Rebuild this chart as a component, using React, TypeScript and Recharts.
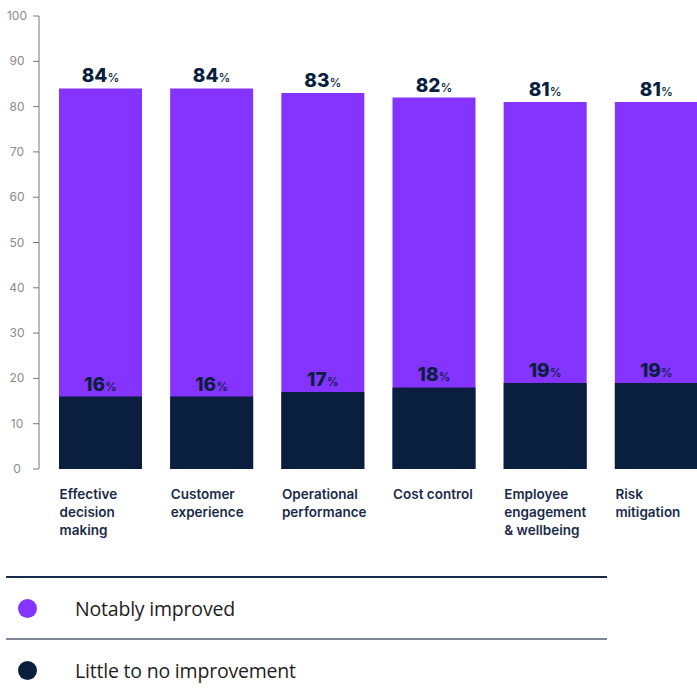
import { BarChart, Bar, XAxis, YAxis, LabelList } from 'recharts'

const CATEGORIES = [
  'Effective decision making',
  'Customer experience',
  'Operational performance',
  'Cost control',
  'Employee engagement & wellbeing',
  'Risk mitigation',
]
const CATEGORY_LINES = [
  ['Effective', 'decision', 'making'],
  ['Customer', 'experience'],
  ['Operational', 'performance'],
  ['Cost control'],
  ['Employee', 'engagement', '& wellbeing'],
  ['Risk', 'mitigation'],
]
const NOTABLY_IMPROVED = [84, 84, 83, 82, 81, 81]
const LITTLE_TO_NONE = [16, 16, 17, 18, 19, 19]
const Y_TICKS = [0, 10, 20, 30, 40, 50, 60, 70, 80, 90, 100]

const PURPLE = '#8533ff'
const NAVY = '#0a1f3d'
const FONT = 'Inter, "Open Sans", sans-serif'

const data = CATEGORIES.map((name, i) => ({
  name,
  lines: CATEGORY_LINES[i],
  improved: NOTABLY_IMPROVED[i],
  little: LITTLE_TO_NONE[i],
}))

function PctLabel(props: any) {
  const { x, y, width, value } = props
  return (
    <text x={x + width / 2} y={y - 6} textAnchor="middle" fill={NAVY} fontFamily={FONT}>
      <tspan fontSize={19} fontWeight={800}>{value}</tspan>
      <tspan fontSize={12} fontWeight={500}>%</tspan>
    </text>
  )
}

function CategoryTick(props: any) {
  const { x, y, payload } = props
  const lines: string[] = CATEGORY_LINES[payload.index] ?? [payload.value]
  return (
    <text x={x - 41} y={y} fill="#1a2b4a" fontFamily={FONT} fontSize={13.5} fontWeight={600}>
      {lines.map((l, i) => (
        <tspan key={i} x={x - 41} dy={i === 0 ? 22 : 18}>{l}</tspan>
      ))}
    </text>
  )
}

function ValueTick(props: any) {
  const { y, payload } = props
  return (
    <text x={17} y={y + 4} textAnchor="middle" fill="#8a8a8a" fontFamily={FONT} fontSize={12}>
      {payload.value}
    </text>
  )
}

function LegendRow({ color, label }: { color: string; label: string }) {
  return (
    <div style={{ display: 'flex', alignItems: 'center', height: 60 }}>
      <span style={{ width: 19, height: 19, borderRadius: '50%', background: color, marginLeft: 12 }} />
      <span style={{ marginLeft: 38, fontSize: 19.5, color: '#1e1e1e', fontFamily: '"Open Sans", sans-serif', letterSpacing: -0.2 }}>{label}</span>
    </div>
  )
}

export default function App() {
  return (
    <div style={{ position: 'fixed', left: 0, top: 0, width: 697, height: 698, overflow: 'hidden', background: '#fff' }}>
      <BarChart width={720} height={545} data={data} margin={{ top: 16, right: 8, bottom: 0, left: 0 }} barSize={83}>
        <XAxis
          xAxisId="a"
          dataKey="name"
          height={76}
          axisLine={false}
          tickLine={false}
          padding={{ left: 6, right: 0 }}
          tick={<CategoryTick />}
          interval={0}
        />
        <XAxis xAxisId="b" dataKey="name" hide padding={{ left: 6, right: 0 }} />
        <YAxis
          width={39}
          domain={[0, 100]}
          ticks={Y_TICKS}
          interval={0}
          axisLine={{ stroke: '#777', strokeWidth: 1 }}
          tickLine={{ stroke: '#777', strokeWidth: 1 }}
          tickSize={6}
          tick={<ValueTick />}
        />
        <Bar xAxisId="a" dataKey="improved" fill={PURPLE} isAnimationActive={false}>
          <LabelList dataKey="improved" content={<PctLabel />} />
        </Bar>
        <Bar xAxisId="b" dataKey="little" fill={NAVY} isAnimationActive={false}>
          <LabelList dataKey="little" content={<PctLabel />} />
        </Bar>
      </BarChart>
      <div style={{ position: 'absolute', left: 6, top: 576, width: 601 }}>
        <div style={{ borderTop: `2px solid #1a2b4a` }} />
        <LegendRow color={PURPLE} label="Notably improved" />
        <div style={{ borderTop: '2px solid #7d8796' }} />
        <LegendRow color={NAVY} label="Little to no improvement" />
      </div>
    </div>
  )
}
